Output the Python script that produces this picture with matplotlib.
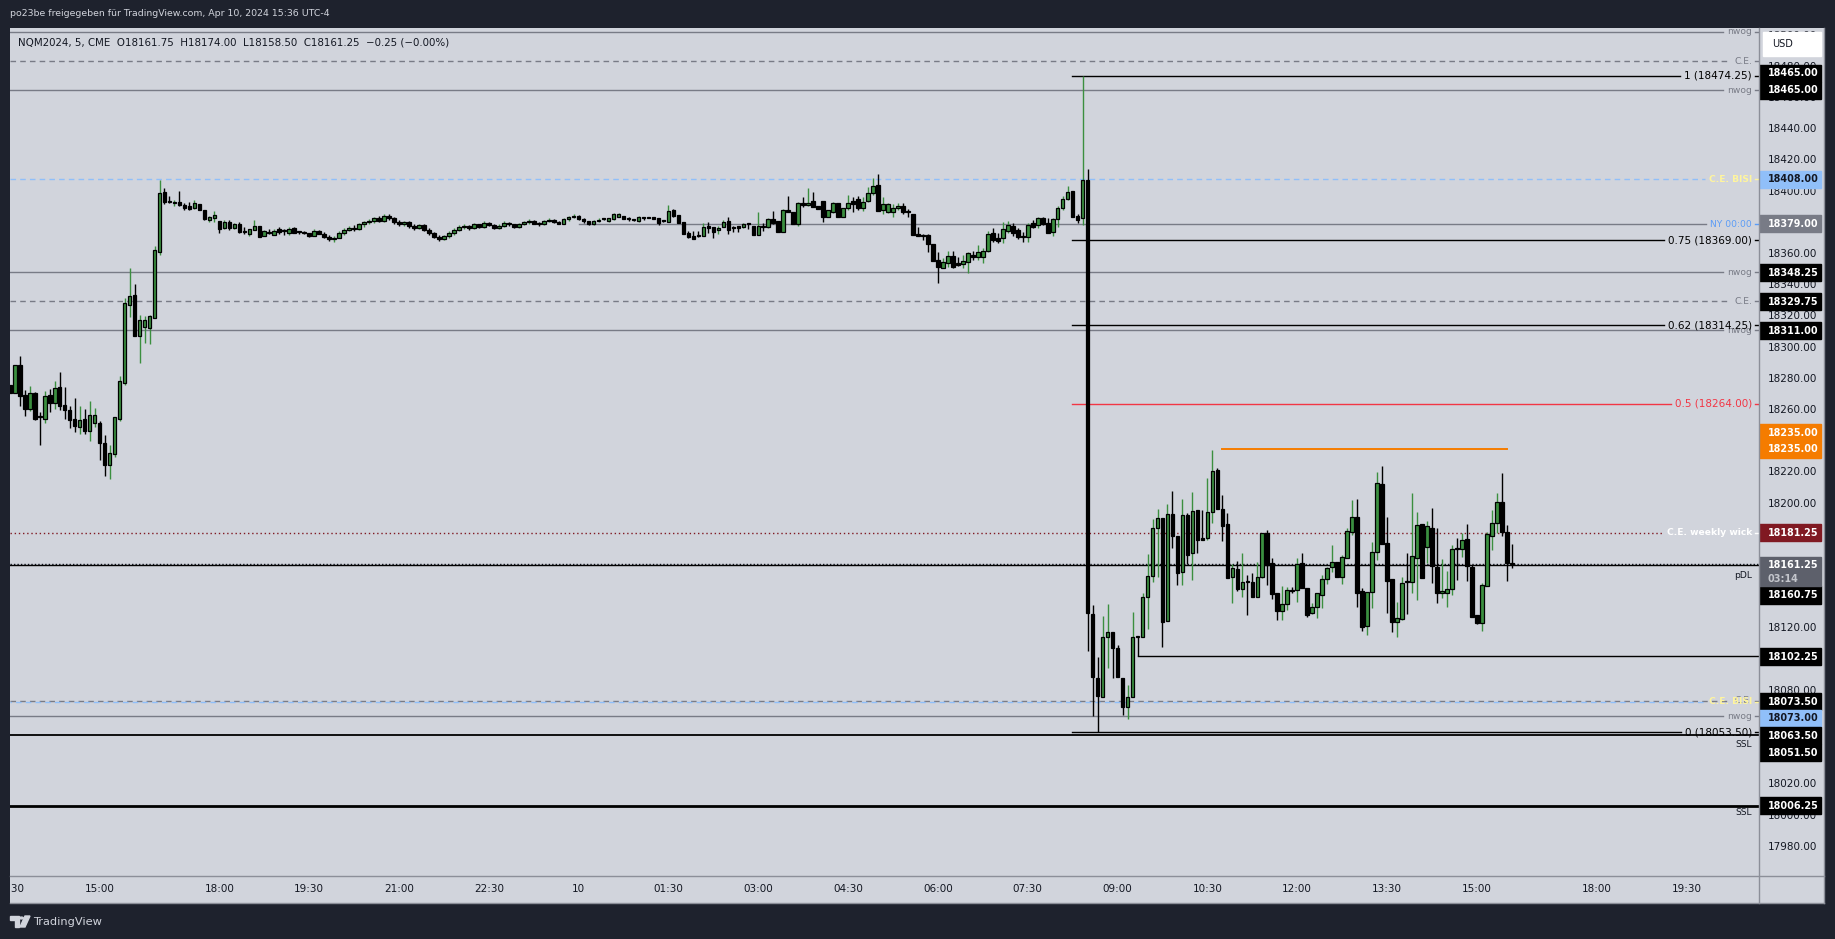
import numpy as np
import matplotlib.pyplot as plt
from matplotlib.patches import Rectangle, Polygon, Circle
from matplotlib.lines import Line2D
from matplotlib import font_manager

W, H = 1835, 939

# NQM2024, 5 min, CME  -  Apr 9 13:30 ... Apr 10 15:35 (UTC-4), one entry per bar
opens = [
    18276.0, 18271.1, 18288.9, 18269.6, 18260.7, 18271.1, 18255.3, 18254.5, 18269.6, 18264.3,
    18274.8, 18263.2, 18260.0, 18254.3, 18249.3, 18254.3, 18246.8, 18251.9, 18251.7, 18238.9,
    18225.0, 18232.0, 18254.5, 18277.5, 18327.6, 18333.8, 18307.7, 18313.4, 18312.8, 18319.2,
    18361.5, 18399.5, 18393.2, 18392.6, 18393.4, 18391.5, 18390.8, 18389.5, 18392.1, 18388.2,
    18382.0, 18383.3, 18381.2, 18376.7, 18380.6, 18376.7, 18379.3, 18374.6, 18372.9, 18375.4,
    18378.0, 18371.6, 18374.1, 18372.2, 18376.1, 18374.8, 18373.5, 18376.7, 18374.1, 18373.5,
    18373.5, 18371.6, 18374.8, 18372.9, 18371.0, 18369.5, 18370.5, 18373.5, 18375.5, 18377.0,
    18376.0, 18379.0, 18380.5, 18381.5, 18383.0, 18381.0, 18384.5, 18383.0, 18380.5, 18379.0,
    18380.5, 18378.0, 18376.5, 18378.5, 18375.5, 18373.5, 18371.0, 18369.5, 18371.5, 18373.5,
    18375.5, 18377.5, 18378.0, 18376.5, 18379.0, 18377.5, 18380.0, 18378.5, 18376.5, 18378.0,
    18380.0, 18379.0, 18377.5, 18379.0, 18380.5, 18381.5, 18379.5, 18379.0, 18381.5, 18382.0,
    18380.5, 18379.5, 18382.5, 18383.5, 18384.5, 18382.5, 18381.0, 18379.0, 18381.5, 18382.5,
    18381.2, 18382.3, 18384.0, 18384.4, 18382.5, 18381.8, 18381.4, 18383.3, 18383.3, 18384.0,
    18382.9, 18381.2, 18380.8, 18388.2, 18385.0, 18380.8, 18373.3, 18371.6, 18371.6, 18371.6,
    18378.0, 18377.1, 18375.4, 18377.6, 18381.0, 18376.9, 18377.8, 18377.1, 18379.3, 18378.0,
    18372.0, 18377.6, 18377.6, 18382.3, 18381.4, 18374.1, 18388.2, 18387.2, 18379.1, 18393.0,
    18391.2, 18393.8, 18390.8, 18393.8, 18383.5, 18387.2, 18392.9, 18383.5, 18389.3, 18394.2,
    18395.1, 18389.3, 18394.2, 18399.4, 18404.3, 18388.1, 18387.2, 18387.2, 18389.3, 18390.8,
    18386.7, 18385.7, 18372.9, 18371.4, 18372.2, 18366.4, 18356.2, 18351.3, 18354.5, 18358.8,
    18354.1, 18353.4, 18355.1, 18359.4, 18358.3, 18358.3, 18362.2, 18373.7, 18370.1, 18370.1,
    18375.0, 18378.0, 18375.4, 18371.1, 18370.7, 18379.7, 18378.6, 18382.9, 18380.1, 18374.3,
    18382.3, 18389.3, 18395.1, 18400.4, 18384.4, 18382.9, 18407.5, 18129.3, 18088.2, 18075.8,
    18114.7, 18117.5, 18107.2, 18088.4, 18069.8, 18075.8, 18114.7, 18114.7, 18139.9, 18153.6,
    18184.2, 18191.0, 18124.9, 18193.4, 18179.5, 18156.4, 18192.7, 18168.1, 18195.9, 18177.8,
    18177.8, 18194.4, 18221.6, 18196.3, 18186.7, 18153.2, 18158.1, 18145.3, 18149.6, 18149.6,
    18140.4, 18152.8, 18181.0, 18161.7, 18142.5, 18131.4, 18135.7, 18144.2, 18144.6, 18161.7,
    18145.7, 18129.6, 18133.5, 18141.4, 18151.5, 18159.2, 18162.8, 18152.8, 18164.9, 18181.6,
    18191.7, 18144.2, 18121.8, 18143.6, 18169.2, 18212.4, 18174.5, 18151.5, 18124.3, 18125.8,
    18149.6, 18149.6, 18165.0, 18186.9, 18172.0, 18184.2, 18159.6, 18142.5, 18142.9, 18145.1,
    18170.7, 18170.7, 18177.1, 18159.6, 18128.6, 18123.3, 18147.4, 18179.3, 18187.4, 18200.8,
    18181.6, 18161.75,
]
highs = [
    18276.0, 18288.9, 18294.6, 18272.8, 18275.4, 18271.8, 18259.0, 18272.2, 18273.5, 18278.6,
    18284.4, 18274.8, 18262.6, 18267.7, 18262.6, 18260.7, 18265.8, 18261.3, 18253.0, 18244.0,
    18237.6, 18255.3, 18281.8, 18331.6, 18351.1, 18340.8, 18321.0, 18320.3, 18320.9, 18365.2,
    18407.5, 18402.3, 18397.2, 18394.7, 18400.4, 18393.0, 18393.4, 18394.7, 18392.1, 18388.2,
    18384.4, 18387.6, 18381.2, 18381.8, 18381.8, 18379.7, 18380.6, 18377.3, 18376.1, 18381.8,
    18378.0, 18375.4, 18376.1, 18376.1, 18377.3, 18376.1, 18377.3, 18377.3, 18374.8, 18374.8,
    18373.5, 18376.1, 18375.4, 18374.0, 18372.5, 18371.5, 18374.5, 18376.5, 18378.0, 18378.5,
    18380.0, 18381.5, 18382.5, 18384.0, 18384.5, 18385.5, 18386.0, 18383.5, 18382.0, 18381.5,
    18381.0, 18379.0, 18379.5, 18379.0, 18376.5, 18374.0, 18372.5, 18372.5, 18374.5, 18376.5,
    18378.5, 18379.5, 18378.5, 18380.0, 18379.5, 18381.0, 18380.5, 18379.0, 18379.0, 18381.0,
    18380.5, 18379.5, 18380.0, 18381.0, 18382.5, 18382.0, 18380.5, 18382.0, 18383.0, 18382.5,
    18381.0, 18383.0, 18384.5, 18385.5, 18385.0, 18383.0, 18381.5, 18382.0, 18383.0, 18382.9,
    18383.3, 18386.5, 18386.5, 18384.4, 18383.5, 18382.3, 18384.4, 18383.3, 18383.5, 18384.0,
    18382.9, 18381.8, 18391.5, 18388.7, 18385.0, 18380.8, 18375.0, 18374.8, 18374.8, 18380.1,
    18380.8, 18377.6, 18378.0, 18381.8, 18383.5, 18378.2, 18377.8, 18379.7, 18380.1, 18378.0,
    18387.2, 18379.7, 18383.3, 18387.8, 18381.4, 18388.7, 18397.4, 18387.2, 18393.6, 18396.4,
    18402.3, 18400.0, 18390.8, 18393.8, 18388.2, 18393.6, 18392.9, 18389.3, 18398.1, 18396.8,
    18397.2, 18396.4, 18402.8, 18408.5, 18411.3, 18396.8, 18393.0, 18392.1, 18392.9, 18392.9,
    18388.7, 18385.7, 18377.6, 18372.9, 18372.9, 18366.4, 18361.1, 18357.3, 18362.2, 18362.0,
    18358.3, 18359.4, 18361.5, 18362.2, 18365.8, 18363.7, 18375.0, 18376.5, 18373.3, 18380.8,
    18381.4, 18380.1, 18376.5, 18374.3, 18380.1, 18381.8, 18383.5, 18383.5, 18382.9, 18382.9,
    18390.8, 18397.2, 18403.6, 18400.4, 18385.7, 18474.25, 18414.3, 18135.0, 18101.5, 18128.0,
    18135.7, 18117.5, 18109.4, 18088.4, 18083.7, 18130.5, 18114.7, 18142.5, 18167.5, 18190.2,
    18196.6, 18191.0, 18199.8, 18208.1, 18179.5, 18202.8, 18194.2, 18207.2, 18195.9, 18195.9,
    18216.2, 18234.4, 18222.6, 18205.5, 18193.8, 18161.3, 18163.4, 18168.1, 18154.3, 18155.7,
    18162.8, 18181.0, 18183.1, 18165.0, 18142.5, 18147.2, 18146.3, 18146.8, 18164.9, 18168.1,
    18145.7, 18136.5, 18142.5, 18154.3, 18159.6, 18173.5, 18162.8, 18167.1, 18184.2, 18202.3,
    18202.8, 18145.7, 18143.6, 18175.6, 18220.5, 18224.1, 18191.2, 18151.5, 18137.2, 18153.2,
    18168.6, 18206.6, 18194.8, 18186.9, 18189.1, 18197.0, 18184.2, 18164.3, 18156.8, 18173.5,
    18178.2, 18181.0, 18186.9, 18160.7, 18128.6, 18149.3, 18182.0, 18195.9, 18206.6, 18219.4,
    18186.3, 18174.0,
]
lows = [
    18271.1, 18271.1, 18262.8, 18256.2, 18259.6, 18253.6, 18237.6, 18251.9, 18259.0, 18260.9,
    18260.0, 18254.5, 18248.7, 18246.1, 18244.6, 18244.6, 18240.4, 18248.9, 18228.0, 18217.7,
    18215.8, 18230.1, 18253.2, 18276.0, 18319.9, 18307.7, 18290.0, 18303.2, 18302.5, 18319.2,
    18359.4, 18392.3, 18392.5, 18391.0, 18391.0, 18388.5, 18388.2, 18388.9, 18388.2, 18382.0,
    18380.6, 18380.6, 18373.5, 18376.1, 18375.4, 18376.1, 18373.5, 18372.9, 18371.6, 18375.4,
    18370.9, 18371.6, 18372.9, 18372.2, 18372.9, 18372.2, 18372.2, 18373.5, 18372.9, 18372.9,
    18371.0, 18371.6, 18372.9, 18370.0, 18368.5, 18368.0, 18370.0, 18372.5, 18374.5, 18375.0,
    18375.5, 18377.5, 18379.0, 18380.0, 18380.5, 18380.5, 18382.0, 18379.5, 18378.0, 18378.0,
    18377.0, 18375.5, 18376.0, 18375.0, 18372.5, 18370.0, 18368.5, 18369.0, 18370.5, 18372.5,
    18374.5, 18376.0, 18375.5, 18376.0, 18377.0, 18377.0, 18378.0, 18376.0, 18376.0, 18377.5,
    18378.0, 18377.0, 18377.0, 18378.5, 18379.5, 18379.0, 18378.0, 18378.5, 18380.5, 18380.0,
    18379.0, 18379.0, 18381.5, 18383.0, 18382.0, 18380.0, 18378.5, 18378.5, 18380.5, 18382.0,
    18380.8, 18381.8, 18383.5, 18382.7, 18381.4, 18381.4, 18380.8, 18381.8, 18382.9, 18382.5,
    18378.6, 18380.6, 18380.8, 18384.0, 18380.1, 18372.6, 18370.5, 18369.9, 18371.2, 18371.6,
    18373.7, 18370.5, 18372.6, 18377.6, 18372.9, 18374.3, 18374.0, 18376.7, 18376.3, 18372.4,
    18372.0, 18374.8, 18376.5, 18379.3, 18374.1, 18374.1, 18386.7, 18379.3, 18378.0, 18390.4,
    18390.8, 18390.0, 18388.9, 18380.8, 18383.5, 18386.5, 18383.5, 18383.5, 18388.2, 18387.2,
    18388.2, 18387.8, 18393.6, 18397.8, 18387.8, 18385.7, 18386.1, 18384.0, 18388.2, 18385.7,
    18383.5, 18372.2, 18371.8, 18369.0, 18361.5, 18355.8, 18341.7, 18351.3, 18351.9, 18350.8,
    18352.4, 18351.3, 18348.1, 18356.2, 18356.2, 18354.5, 18361.5, 18367.9, 18367.3, 18367.3,
    18373.3, 18371.6, 18369.4, 18367.9, 18367.9, 18376.5, 18376.5, 18378.4, 18373.3, 18371.6,
    18377.6, 18388.2, 18394.7, 18383.5, 18379.7, 18378.6, 18105.7, 18063.9, 18053.5, 18075.8,
    18094.4, 18088.4, 18089.1, 18064.5, 18061.7, 18075.8, 18102.3, 18114.7, 18119.4, 18150.0,
    18153.2, 18108.3, 18124.9, 18171.3, 18147.8, 18147.8, 18161.3, 18151.0, 18168.1, 18176.7,
    18176.7, 18187.4, 18196.3, 18176.3, 18152.5, 18136.1, 18144.0, 18140.0, 18128.6, 18140.4,
    18140.0, 18152.1, 18147.8, 18138.7, 18125.4, 18125.4, 18131.8, 18142.5, 18137.2, 18145.7,
    18127.5, 18129.2, 18126.5, 18132.9, 18148.3, 18156.4, 18152.8, 18148.5, 18164.9, 18179.9,
    18134.0, 18118.6, 18115.8, 18132.9, 18163.9, 18174.1, 18130.1, 18117.9, 18114.7, 18125.4,
    18129.3, 18142.5, 18138.2, 18152.1, 18161.7, 18149.3, 18136.5, 18139.3, 18134.0, 18141.4,
    18151.1, 18165.6, 18150.6, 18127.5, 18122.7, 18118.6, 18147.4, 18170.3, 18181.0, 18179.5,
    18150.6, 18158.5,
]
closes = [
    18271.1, 18288.9, 18269.2, 18260.7, 18270.9, 18254.3, 18255.3, 18269.0, 18264.7, 18274.1,
    18262.8, 18260.2, 18253.8, 18250.0, 18253.6, 18246.8, 18256.8, 18256.8, 18239.1, 18224.8,
    18232.5, 18255.3, 18278.4, 18328.4, 18333.1, 18307.7, 18317.5, 18317.5, 18320.3, 18362.6,
    18398.9, 18393.6, 18393.2, 18393.2, 18391.5, 18389.5, 18388.9, 18392.7, 18388.2, 18382.5,
    18383.8, 18385.0, 18376.1, 18380.6, 18376.7, 18379.3, 18374.1, 18374.4, 18376.1, 18378.0,
    18370.9, 18374.8, 18373.5, 18374.8, 18374.1, 18374.8, 18376.1, 18373.5, 18374.1, 18373.5,
    18371.6, 18374.8, 18372.9, 18371.0, 18369.5, 18370.5, 18373.5, 18375.5, 18377.0, 18376.0,
    18379.0, 18380.5, 18381.5, 18383.0, 18381.0, 18384.5, 18383.0, 18380.5, 18379.0, 18380.5,
    18378.0, 18376.5, 18378.5, 18375.5, 18373.5, 18371.0, 18369.5, 18371.5, 18373.5, 18375.5,
    18377.5, 18378.0, 18376.5, 18379.0, 18377.5, 18380.0, 18378.5, 18376.5, 18378.0, 18380.0,
    18379.0, 18377.5, 18379.0, 18380.5, 18381.5, 18379.5, 18379.0, 18381.5, 18382.0, 18380.5,
    18379.5, 18382.5, 18383.5, 18384.5, 18382.5, 18381.0, 18379.0, 18381.5, 18382.0, 18382.5,
    18382.9, 18385.7, 18385.7, 18382.7, 18382.5, 18381.8, 18384.0, 18383.3, 18383.3, 18382.5,
    18379.9, 18381.2, 18387.6, 18384.6, 18380.1, 18372.6, 18371.1, 18369.9, 18371.6, 18377.1,
    18376.7, 18374.1, 18376.9, 18380.3, 18375.6, 18376.9, 18376.5, 18379.3, 18379.3, 18372.4,
    18378.0, 18377.6, 18382.3, 18380.1, 18374.1, 18388.2, 18386.7, 18379.3, 18392.9, 18391.2,
    18393.0, 18390.4, 18388.9, 18383.5, 18388.2, 18392.9, 18383.5, 18389.3, 18392.9, 18391.9,
    18389.3, 18393.4, 18398.9, 18403.6, 18387.8, 18392.1, 18392.1, 18389.3, 18390.8, 18387.2,
    18386.7, 18372.2, 18371.8, 18371.4, 18366.4, 18355.8, 18351.9, 18354.7, 18358.8, 18351.9,
    18353.0, 18355.6, 18360.5, 18358.3, 18361.5, 18362.2, 18372.9, 18369.0, 18368.6, 18375.9,
    18378.6, 18373.7, 18371.1, 18371.1, 18378.6, 18377.6, 18382.9, 18379.3, 18373.7, 18382.3,
    18389.3, 18395.1, 18400.0, 18383.5, 18381.8, 18407.5, 18129.7, 18088.6, 18076.9, 18114.3,
    18117.5, 18107.2, 18089.1, 18069.8, 18075.8, 18114.7, 18114.7, 18139.9, 18153.6, 18184.2,
    18190.6, 18124.3, 18193.4, 18179.5, 18155.7, 18192.7, 18167.1, 18195.3, 18176.7, 18176.7,
    18194.4, 18220.9, 18196.3, 18185.7, 18152.5, 18158.5, 18145.3, 18149.6, 18149.6, 18140.4,
    18152.8, 18181.0, 18160.7, 18142.1, 18131.4, 18135.7, 18144.7, 18144.2, 18161.3, 18145.7,
    18128.6, 18133.5, 18142.5, 18151.5, 18158.5, 18162.8, 18152.8, 18166.0, 18182.7, 18191.7,
    18142.9, 18121.1, 18143.6, 18169.2, 18213.0, 18174.1, 18150.6, 18124.3, 18126.5, 18149.3,
    18149.6, 18166.4, 18186.3, 18152.1, 18185.7, 18160.0, 18142.9, 18144.2, 18145.1, 18170.7,
    18170.7, 18176.7, 18160.0, 18127.5, 18123.3, 18147.8, 18180.5, 18187.4, 18200.8, 18182.0,
    18161.7, 18161.25,
]

# time axis: bar index of each label
time_ticks = [0, 18, 42, 60, 78, 96, 114, 132, 150, 168, 186, 204, 222, 240, 258, 276, 294, 318, 336]
time_labels = ['13:30', '15:00', '18:00', '19:30', '21:00', '22:30', '10', '01:30', '03:00', '04:30',
               '06:00', '07:30', '09:00', '10:30', '12:00', '13:30', '15:00', '18:00', '19:30']

# fib retracement drawn on the 08:25 high / 08:40 low
fib_levels = [1, 0.75, 0.62, 0.5, 0]
fib_prices = [18474.25, 18369.00, 18314.25, 18264.00, 18053.50]

# marked levels
nwog_prices = [18502.50, 18465.00, 18348.25, 18311.00, 18063.50]
ce_prices = [18483.75, 18329.75, 18073.50]
bisi_prices = [18408.00, 18073.00]
ny_midnight = 18379.00
weekly_wick_ce = 18181.25
prev_day_low = 18160.75
last_price = 18161.25
ssl_prices = [18051.50, 18006.25]
level_after_open = 18102.25
range_high = 18235.00

# price tags on the right scale (TradingView stacks overlapping ones)
tag_values = [18465.00, 18465.00, 18408.00, 18379.00, 18348.25, 18329.75, 18311.00, 18235.00,
              18235.00, 18181.25, 18160.75, 18102.25, 18073.50, 18073.00, 18063.50, 18051.50, 18006.25]
tag_kind = ['k', 'k', 'blue', 'gray', 'k', 'k', 'k', 'orange', 'orange', 'red', 'k', 'k', 'k',
            'blue', 'k', 'k', 'k']
tag_y_px = [73.3, 90.3, 179.3, 224.0, 272.7, 301.7, 330.7, 432.7, 449.3, 532.7, 595.0, 656.7,
            701.7, 718.3, 735.7, 752.7, 805.7]

DARK = '#1e222d'
BG = '#d1d4dc'
TXT = '#131722'
GRAY = '#787b86'
GREEN = '#3b8f3f'
tag_colors = {'k': ('black', 'white'), 'blue': ('#90bff9', TXT), 'gray': (GRAY, 'white'),
              'orange': ('#f57c00', 'white'), 'red': ('#801922', 'white')}

# a narrow face for the share header if one is installed
installed = {f.name for f in font_manager.fontManager.ttflist}
HEAD_FONT = ['Liberation Sans Narrow'] if 'Liberation Sans Narrow' in installed else ['DejaVu Sans']


def px2i(px):  # figure pixel x -> bar index
    return (px - 9.8) / 4.99


def px2p(py):  # figure pixel y (from top) -> price
    return 18440 - (py - 129.3) / 1.5596


def rect(x0, y0, x1, y1):
    return [x0 / W, 1 - y1 / H, (x1 - x0) / W, (y1 - y0) / H]


fig = plt.figure(figsize=(W / 100, H / 100), dpi=100, facecolor=DARK)
renderer = fig.canvas.get_renderer()

PTOP, PBOT = px2p(27.7), px2p(876)
ax = fig.add_axes(rect(10, 27.7, 1759, 876))
ax.set_facecolor(BG)
ax.set_xlim(px2i(10), px2i(1759))
ax.set_ylim(PBOT, PTOP)
ax.set_xticks([])
ax.set_yticks([])
for s in ax.spines.values():
    s.set_visible(False)

# candles
o, h, l, c = map(np.array, (opens, highs, lows, closes))
x = np.arange(len(c))
up = c > o
ax.vlines(x, l, h, colors=np.where(up, GREEN, 'black'), lw=1.0, zorder=3)
ax.bar(x, np.maximum(np.abs(c - o), 0.6), bottom=np.minimum(o, c), width=0.72,
       color=np.where(up, GREEN, 'black'), edgecolor='black', lw=0.9, zorder=4)


def level(price, label=None, color=GRAY, tcolor=None, ls='-', lw=1.0, x0=None,
          fs=6.6, weight='normal'):
    x0 = px2i(10) if x0 is None else x0
    xend = px2i(1759)
    if label:
        tc = tcolor or color
        t = ax.text(px2i(1752), price, label, color=tc, fontsize=fs, fontweight=weight,
                    ha='right', va='center', zorder=6)
        xend = px2i(t.get_window_extent(renderer).x0 - 4)
        ax.plot([px2i(1755), px2i(1759)], [price, price], color=tc, lw=1, zorder=6)
    ax.plot([x0, xend], [price, price], color=color, ls=ls, lw=lw, zorder=2)


DASH = (0, (4, 3))
level(nwog_prices[0], 'nwog')
level(ce_prices[0], 'C.E.', ls=DASH)
level(nwog_prices[1], 'nwog')
level(bisi_prices[0], 'C.E. BISI', color='#90bff9', tcolor='#fff59d', ls=DASH, weight='bold')
level(ny_midnight, 'NY 00:00', tcolor='#5b9cf6', x0=114)
level(nwog_prices[2], 'nwog')
level(ce_prices[1], 'C.E.', ls=DASH)
level(nwog_prices[3], 'nwog')
level(weekly_wick_ce, 'C.E. weekly wick', color='#801922', tcolor='white', ls=(0, (1, 2)),
      weight='bold')
level(last_price, color=TXT, ls=(0, (1, 1.5)))
level(prev_day_low, color='black')
level(level_after_open, color='black', x0=226)
level(ce_prices[2], 'C.E.', ls=DASH)
level(bisi_prices[1], 'C.E. BISI', color='#90bff9', tcolor='#fff59d', ls=(3, (4, 3)), weight='bold')
level(nwog_prices[4], 'nwog')
level(ssl_prices[0], color='black', lw=1.3)
level(ssl_prices[1], color='black', lw=2.0)
for lv, p in zip(fib_levels, fib_prices):
    col = '#f23645' if lv == 0.5 else 'black'
    level(p, f'{lv:g} ({p:.2f})', color=col, x0=px2i(1072), fs=7.5)
ax.plot([243, 300], [range_high, range_high], color='#f57c00', lw=1.4, zorder=2)

for name, py in (('pDL', 575), ('SSL', 745), ('SSL', 813)):
    ax.text(px2i(1752), px2p(py), name, color=TXT, fontsize=6.6, ha='right', va='center')

# price scale
pax = fig.add_axes(rect(1759, 27.7, 1824, 876))
pax.set_facecolor(BG)
pax.set_xlim(0, 65)
pax.set_ylim(PBOT, PTOP)
pax.set_xticks([])
pax.set_yticks([])
for s in pax.spines.values():
    s.set_visible(False)
for p in range(17980, 18501, 20):
    pax.text(8.7, p, f'{p:.2f}', color=TXT, fontsize=7.5, va='center', clip_on=True)
for v, k, py in zip(tag_values, tag_kind, tag_y_px):
    bg, fg = tag_colors[k]
    pax.add_patch(Rectangle((0, px2p(py + 8.5)), 61.7, 17 / 1.5596, color=bg, zorder=5))
    pax.text(8.7, px2p(py), f'{v:.2f}', color=fg, fontsize=6.9, fontweight='bold',
             va='center', zorder=6)
pax.add_patch(Rectangle((0, px2p(586)), 61.7, 29.3 / 1.5596, color='#5d606b', zorder=5))
pax.text(8.7, px2p(565), f'{last_price:.2f}', color='white', fontsize=6.9, fontweight='bold',
         va='center', zorder=6)
pax.text(8.7, px2p(578.5), '03:14', color='#c4c6cc', fontsize=6.9, fontweight='bold',
         va='center', zorder=6)
pax.add_patch(Rectangle((4, px2p(56)), 57.7, 24.3 / 1.5596, color='white', zorder=5))
pax.text(13, px2p(44), 'USD', color=TXT, fontsize=7, va='center', zorder=6)

# time scale
tax = fig.add_axes(rect(10, 876, 1824, 903))
tax.set_facecolor(BG)
tax.set_xlim(px2i(10), px2i(1824))
tax.set_ylim(0, 1)
tax.set_xticks([])
tax.set_yticks([])
for s in tax.spines.values():
    s.set_visible(False)
for t, lab in zip(time_ticks, time_labels):
    if t < px2i(1740):
        tax.text(t, 0.5, lab, color=TXT, fontsize=7.5, ha='center', va='center', clip_on=True)

# separators / frame
for xs, ys in (([1759, 1759], [27.7, 903]), ([10, 1824], [876, 876]),
               ([10, 1824], [903, 903]), ([1824, 1824], [27.7, 903])):
    fig.add_artist(Line2D([v / W for v in xs], [1 - v / H for v in ys], color='#8c8f99', lw=1))


def fit_text(x0, x1, y, s, color, family=None, base=8):
    t = fig.text(x0 / W, 1 - y / H, s, color=color, fontsize=base, va='center',
                 family=family or ['DejaVu Sans'])
    w = t.get_window_extent(renderer).width
    t.set_fontsize(base * (x1 - x0) / w)
    return t


fit_text(9.6, 330, 14, 'po23be freigegeben für TradingView.com, Apr 10, 2024 15:36 UTC-4', '#d1d4dc',
         family=HEAD_FONT)
fit_text(18, 450, 42.5, 'NQM2024, 5, CME  O18161.75  H18174.00  L18158.50  C18161.25  −0.25 (−0.00%)', TXT)

# footer logo
ft = fig.transFigure
fig.add_artist(Polygon([(10 / W, 1 - 916 / H), (19 / W, 1 - 916 / H), (19 / W, 1 - 927 / H),
                        (15 / W, 1 - 927 / H), (15 / W, 1 - 919.5 / H), (10 / W, 1 - 919.5 / H)],
                       closed=True, color='#d1d4dc', transform=ft))
fig.add_artist(Circle((21.5 / W, 1 - 918 / H), 1.8 / W, color='#d1d4dc', transform=ft))
fig.add_artist(Polygon([(25 / W, 1 - 916 / H), (30 / W, 1 - 916 / H), (25 / W, 1 - 927 / H),
                        (20 / W, 1 - 927 / H)], closed=True, color='#d1d4dc', transform=ft))
fig.text(33 / W, 1 - 921.7 / H, 'TradingView', color='#d1d4dc', fontsize=8.2, va='center')

fig.savefig('out.png', dpi=100, facecolor=DARK)
